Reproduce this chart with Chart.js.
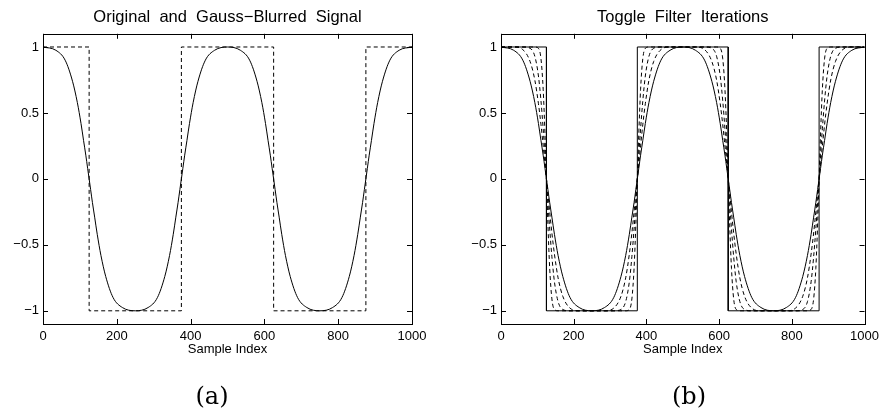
<!DOCTYPE html>
<html>
<head>
<meta charset="utf-8">
<script src="https://cdn.jsdelivr.net/npm/chart.js@4.4.0/dist/chart.umd.min.js"></script>
<style>
  html, body { margin: 0; padding: 0; background: #fff; overflow: hidden; }
  #wrap { position: relative; width: 884px; height: 410px; }
  canvas { position: absolute; top: 0; }
  .cap { position: absolute; top: 380px; font-family: "DejaVu Serif", serif; font-size: 24px; line-height: 32px; transform: translateX(-50%); color: #000; }
</style>
</head>
<body>
<div id="wrap">
  <canvas id="left" width="442" height="410" style="left:0"></canvas>
  <canvas id="right" width="442" height="410" style="left:442px"></canvas>
  <div class="cap" style="left:212px">(a)</div>
  <div class="cap" style="left:689px">(b)</div>
</div>
<script>
// tick positions
var xTicks = [0, 200, 400, 600, 800, 1000];
var yTicks = [-1, -0.5, 0, 0.5, 1];

// original square signal (corner points)
var squareX = [0, 125, 125, 375, 375, 625, 625, 875, 875, 1000];
var squareY = [1, 1, -1, -1, 1, 1, -1, -1, 1, 1];

// sample positions (denser near the edges)
var sampleIdx = [
  0, 35, 60, 80, 93, 103, 110, 116, 121, 125, 129, 134, 140, 147, 157, 170, 190, 215,
  250, 285, 310, 330, 343, 353, 360, 366, 371, 375, 379, 384, 390, 397, 407, 420, 440, 465,
  500, 535, 560, 580, 593, 603, 610, 616, 621, 625, 629, 634, 640, 647, 657, 670, 690, 715,
  750, 785, 810, 830, 843, 853, 860, 866, 871, 875, 879, 884, 890, 897, 907, 920, 940, 965,
  1000];

// gauss blurred signal (left solid curve, right outer solid curve)
var blurred = [
  1, 0.975, 0.9, 0.74, 0.58, 0.42, 0.29, 0.18, 0.08, 0, -0.08, -0.18, -0.29, -0.42, -0.58, -0.74, -0.9, -0.975,
  -1, -0.975, -0.9, -0.74, -0.58, -0.42, -0.29, -0.18, -0.08, 0, 0.08, 0.18, 0.29, 0.42, 0.58, 0.74, 0.9, 0.975,
  1, 0.975, 0.9, 0.74, 0.58, 0.42, 0.29, 0.18, 0.08, 0, -0.08, -0.18, -0.29, -0.42, -0.58, -0.74, -0.9, -0.975,
  -1, -0.975, -0.9, -0.74, -0.58, -0.42, -0.29, -0.18, -0.08, 0, 0.08, 0.18, 0.29, 0.42, 0.58, 0.74, 0.9, 0.975,
  1];

// toggle filter iterations (dashed)
var iter1 = [
  1, 1, 0.98, 0.89, 0.75, 0.57, 0.41, 0.25, 0.11, 0, -0.11, -0.25, -0.41, -0.57, -0.75, -0.89, -0.98, -1,
  -1, -1, -0.98, -0.89, -0.75, -0.57, -0.41, -0.25, -0.11, 0, 0.11, 0.25, 0.41, 0.57, 0.75, 0.89, 0.98, 1,
  1, 1, 0.98, 0.89, 0.75, 0.57, 0.41, 0.25, 0.11, 0, -0.11, -0.25, -0.41, -0.57, -0.75, -0.89, -0.98, -1,
  -1, -1, -0.98, -0.89, -0.75, -0.57, -0.41, -0.25, -0.11, 0, 0.11, 0.25, 0.41, 0.57, 0.75, 0.89, 0.98, 1,
  1];
var iter2 = [
  1, 1, 1, 0.99, 0.93, 0.78, 0.59, 0.38, 0.18, 0, -0.18, -0.38, -0.59, -0.78, -0.93, -0.99, -1, -1,
  -1, -1, -1, -0.99, -0.93, -0.78, -0.59, -0.38, -0.18, 0, 0.18, 0.38, 0.59, 0.78, 0.93, 0.99, 1, 1,
  1, 1, 1, 0.99, 0.93, 0.78, 0.59, 0.38, 0.18, 0, -0.18, -0.38, -0.59, -0.78, -0.93, -0.99, -1, -1,
  -1, -1, -1, -0.99, -0.93, -0.78, -0.59, -0.38, -0.18, 0, 0.18, 0.38, 0.59, 0.78, 0.93, 0.99, 1, 1,
  1];
var iter3 = [
  1, 1, 1, 1, 1, 0.99, 0.91, 0.68, 0.34, 0, -0.34, -0.68, -0.91, -0.99, -1, -1, -1, -1,
  -1, -1, -1, -1, -1, -0.99, -0.91, -0.68, -0.34, 0, 0.34, 0.68, 0.91, 0.99, 1, 1, 1, 1,
  1, 1, 1, 1, 1, 0.99, 0.91, 0.68, 0.34, 0, -0.34, -0.68, -0.91, -0.99, -1, -1, -1, -1,
  -1, -1, -1, -1, -1, -0.99, -0.91, -0.68, -0.34, 0, 0.34, 0.68, 0.91, 0.99, 1, 1, 1, 1,
  1];

var sansFont = '"Liberation Sans", Arial, Helvetica, sans-serif';

function pts(xs, ys) {
  return xs.map(function(v, i) { return {x: v, y: ys[i]}; });
}

function fmt(v) {
  return v < 0 ? '\u2212' + Math.abs(v) : String(v);
}

function line(xs, ys, dashed, smooth) {
  return {
    data: pts(xs, ys),
    borderColor: '#000',
    borderWidth: 1,
    borderDash: dashed ? [4, 3] : [],
    pointRadius: 0,
    fill: false,
    tension: 0,
    cubicInterpolationMode: smooth ? 'monotone' : 'default'
  };
}

// frame round the plot with inward tick marks, matlab style
var boxTicks = {
  id: 'boxTicks',
  afterDraw: function(chart) {
    var ctx = chart.ctx, a = chart.chartArea;
    var x = chart.scales.x, y = chart.scales.y;
    ctx.save();
    ctx.strokeStyle = '#000';
    ctx.lineWidth = 1;
    ctx.strokeRect(Math.round(a.left) + 0.5, Math.round(a.top) + 0.5,
      Math.round(a.right - a.left), Math.round(a.bottom - a.top));
    ctx.beginPath();
    xTicks.forEach(function(v) {
      var px = Math.round(x.getPixelForValue(v)) + 0.5;
      ctx.moveTo(px, a.bottom); ctx.lineTo(px, a.bottom - 5);
      ctx.moveTo(px, a.top); ctx.lineTo(px, a.top + 5);
    });
    yTicks.forEach(function(v) {
      var py = Math.round(y.getPixelForValue(v)) + 0.5;
      ctx.moveTo(a.left, py); ctx.lineTo(a.left + 5, py);
      ctx.moveTo(a.right, py); ctx.lineTo(a.right - 5, py);
    });
    ctx.stroke();
    ctx.restore();
  }
};

function makePanel(id, title, datasets, yWidth, padRight) {
  return new Chart(document.getElementById(id), {
    type: 'line',
    data: {datasets: datasets},
    options: {
      responsive: false,
      animation: false,
      events: [],
      layout: {padding: {left: 0, right: padRight, top: 0, bottom: 26}},
      plugins: {
        legend: {display: false},
        tooltip: {enabled: false},
        title: {
          display: true,
          text: title,
          fullSize: false,
          color: '#000',
          font: {family: sansFont, size: 16.5, weight: 'normal'},
          padding: {top: 8, bottom: 6}
        }
      },
      scales: {
        x: {
          type: 'linear',
          min: 0,
          max: 1000,
          grid: {display: false, drawTicks: false},
          border: {display: false},
          afterBuildTicks: function(s) { s.ticks = xTicks.map(function(v) { return {value: v}; }); },
          afterFit: function(s) { s.height = 60; },
          ticks: {
            color: '#000',
            padding: 5,
            autoSkip: false,
            maxRotation: 0,
            font: {family: sansFont, size: 13},
            callback: fmt
          },
          title: {
            display: true,
            text: 'Sample Index',
            color: '#000',
            font: {family: sansFont, size: 13},
            padding: {top: 0, bottom: 27}
          }
        },
        y: {
          type: 'linear',
          min: -1.1,
          max: 1.1,
          grid: {display: false, drawTicks: false},
          border: {display: false},
          afterBuildTicks: function(s) { s.ticks = yTicks.map(function(v) { return {value: v}; }); },
          afterFit: function(s) { s.width = yWidth; },
          ticks: {
            color: '#000',
            padding: 4,
            font: {family: sansFont, size: 13},
            callback: fmt
          }
        }
      }
    },
    plugins: [boxTicks]
  });
}

makePanel('left', 'Original  and  Gauss\u2212Blurred  Signal', [
  line(sampleIdx, blurred, false, true),
  line(squareX, squareY, true, false)
], 43, 30);

makePanel('right', 'Toggle  Filter  Iterations', [
  line(squareX, squareY, false, false),
  line(sampleIdx, blurred, false, true),
  line(sampleIdx, iter1, true, true),
  line(sampleIdx, iter2, true, true),
  line(sampleIdx, iter3, true, true)
], 59, 14);
</script>
</body>
</html>
